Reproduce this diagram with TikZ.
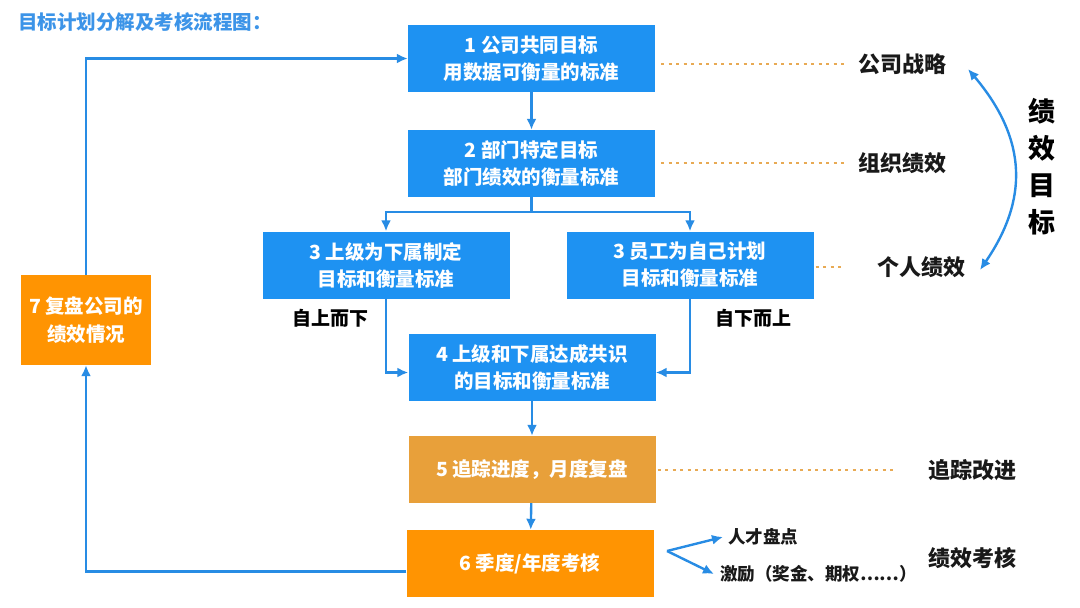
\documentclass[tikz,border=0pt]{standalone}
\usepackage{fontspec}
\setmainfont{Noto Sans CJK SC}
\usetikzlibrary{arrows.meta}

% Colors
\definecolor{boxblue}{RGB}{30,146,242}
\definecolor{linkblue}{RGB}{40,140,228}
\definecolor{trackgold}{RGB}{232,160,58}
\definecolor{revieworange}{RGB}{255,148,2}
\definecolor{dotorange}{RGB}{232,170,84}
\definecolor{titleblue}{RGB}{60,148,232}

\tikzset{
    stage/.style={fill=boxblue, text=white, minimum width=247pt, minimum height=67pt,
        inner sep=0pt, align=center, font=\fontsize{19.5}{27}\selectfont\bfseries},
    link/.style={draw=linkblue, line width=2.4pt, ->},
    guide/.style={draw=dotorange, line width=2.2pt, dash pattern=on 3pt off 4.5pt},
    tag/.style={text=black!90, inner sep=0pt, anchor=west, font=\fontsize{22}{26}\selectfont\bfseries},
    minortag/.style={tag, font=\fontsize{17.5}{21}\selectfont\bfseries},
}

\begin{document}
\begin{tikzpicture}[x=1pt, y=-1pt, >={Latex[length=11pt,width=10pt]}]

    \fill[white] (0,0) rectangle (1080,608);
    \useasboundingbox (0,0) rectangle (1080,608);

    % Title
    \node[anchor=west, inner sep=0pt, text=titleblue, font=\fontsize{19.5}{22}\selectfont\bfseries]
        (title) at (18,22) {目标计划分解及考核流程图：};

    % Main chain of stages
    \node[stage] (s1) at (531.5,58.5) {1 公司共同目标\\用数据可衡量的标准};
    \node[stage] (s2) at (531.5,163.5) {2 部门特定目标\\部门绩效的衡量标准};
    \node[stage] (s3l) at (386,265) {3 上级为下属制定\\目标和衡量标准};
    \node[stage] (s3r) at (690,265) {3 员工为自己计划\\目标和衡量标准};
    \node[stage] (s4) at (532,367.5) {4 上级和下属达成共识\\的目标和衡量标准};
    \node[stage, fill=trackgold] (s5) at (532,469.5) {5 追踪进度，月度复盘};
    \node[stage, fill=revieworange] (s6) at (530,563.5) {6 季度/年度考核};
    \node[stage, fill=revieworange, minimum width=130pt, minimum height=90pt,
        font=\fontsize{19.5}{28}\selectfont\bfseries] (s7) at (86,320) {7 复盘公司的\\绩效情况};

    % Direction labels
    \node[font=\fontsize{19}{22}\selectfont\bfseries, inner sep=0pt] (down) at (330,318) {自上而下};
    \node[font=\fontsize{19}{22}\selectfont\bfseries, inner sep=0pt] (up) at (753,318) {自下而上};

    % Right hand labels
    \node[tag] (strategy) at (858,64) {公司战略};
    \node[tag] (org) at (858,163) {组织绩效};
    \node[tag] (person) at (877,267) {个人绩效};
    \node[tag] (track) at (928,470) {追踪改进};
    \node[tag] (assess) at (928,558) {绩效考核};
    \node[minortag] (talent) at (728,537) {人才盘点};
    \node[minortag] (bonus) at (720,574) {激励（奖金、期权……）};
    \node[align=center, inner sep=0pt, font=\fontsize{27}{37}\selectfont\bfseries]
        (goal) at (1042,167) {绩\\效\\目\\标};

    % Arrows between stages
    \coordinate (split) at (531.5,212);
    \draw[link] (s1) -- (s2);
    \draw[link, -] (s2) -- (split);
    \draw[link] (split) -| (s3l);
    \draw[link] (split) -| (s3r);
    \draw[link] (s3l) |- ([yshift=-5pt]s4.west);
    \draw[link] (s3r) |- ([yshift=-5pt]s4.east);
    \draw[link] (s4) -- (s5);
    \draw[link] (s5) -- (s6);
    \draw[link] ([yshift=-8pt]s6.west) -| (s7);
    \draw[link] (s7) |- (s1);

    % Results of the assessment
    \coordinate (fork) at (667,551);
    \draw[link] (fork) -- ([xshift=-5pt]talent.west);
    \draw[link] (fork) -- ([xshift=-6pt]bonus.west);

    % Dotted guides
    \draw[guide, shorten <=6pt, shorten >=13pt] (s1.east |- strategy) -- (strategy);
    \draw[guide, shorten <=6pt, shorten >=13pt] (s2.east |- org) -- (org);
    \draw[guide, shorten <=2pt, shorten >=32pt] (s3r.east |- person) -- (person);
    \draw[guide, shorten <=2pt, shorten >=35pt] (s5.east |- track) -- (track);

    % Performance goal arc
    \coordinate (arctop) at (968,69);
    \coordinate (arcbot) at (980,270);
    \draw[link, <->] (arctop) .. controls (1028,140) and (1028,200) .. (arcbot);

\end{tikzpicture}
\end{document}
